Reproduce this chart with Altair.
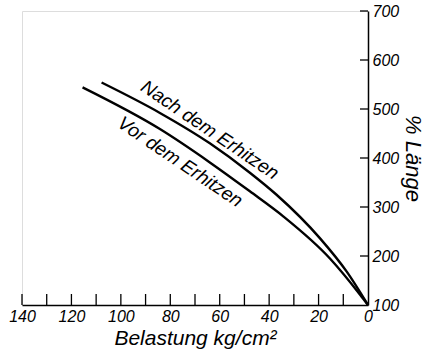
import altair as alt
import pandas as pd

# data
nach_load = [0, 8.6, 19.4, 37, 47.8, 64, 84.2, 107.8]
nach_len = [100, 168, 236, 325, 370, 430, 492, 554]
vor_load = [0, 3.2, 15.4, 34.3, 47.8, 64, 84.2, 115.5]
vor_len = [100, 121, 195, 281, 332, 391, 459, 544]

x_labels = [0, 20, 40, 60, 80, 100, 120, 140]
x_ticks = [10, 20, 30, 40, 50, 60, 70, 80, 90, 100, 110, 120, 130, 140]
y_labels = [100, 200, 300, 400, 500, 600, 700]
y_ticks = [200, 300, 400, 500, 600, 700]

curve_names = ["Nach dem Erhitzen", "Vor dem Erhitzen"]
label_load = [64, 76]
label_len = [457, 392]

W, H = 346, 294
FONT = "Liberation Sans"

rows = []
for s, xs, ys in [("Nach", nach_load, nach_len), ("Vor", vor_load, vor_len)]:
    for i, (a, b) in enumerate(zip(xs, ys)):
        rows.append({"serie": s, "load": a, "len": b, "ord": i})
df = pd.DataFrame(rows)

xscale = alt.Scale(domain=[0, 140], reverse=True, nice=False, zero=False)
yscale = alt.Scale(domain=[100, 700], nice=False, zero=False)

xaxis = alt.Axis(values=x_labels, tickSize=0, labelPadding=3, grid=False,
                 domainColor="black", domainWidth=1.5, labelColor="black",
                 labelFont=FONT, labelFontStyle="italic", labelFontSize=16,
                 title="Belastung kg/cm²", titleFont=FONT, titleFontStyle="italic",
                 titleFontSize=21, titleFontWeight="normal", titleColor="black",
                 titlePadding=3, labelFlush=False)
yaxis = alt.Axis(orient="right", values=y_labels, tickSize=0, labelPadding=4, grid=False,
                 domainColor="black", domainWidth=1.5, labelColor="black",
                 labelFont=FONT, labelFontStyle="italic", labelFontSize=16,
                 title="% Länge", titleFont=FONT, titleFontStyle="italic",
                 titleFontSize=22, titleFontWeight="normal", titleColor="black",
                 titlePadding=2, labelFlush=False)

lines = alt.Chart(df).mark_line(color="black", strokeWidth=2.4, interpolate="monotone").encode(
    x=alt.X("load:Q", scale=xscale, axis=xaxis),
    y=alt.Y("len:Q", scale=yscale, axis=yaxis),
    detail="serie:N",
    order="ord:Q",
)

xt = alt.Chart(pd.DataFrame({"v": x_ticks})).mark_rule(color="black", strokeWidth=1.3).encode(
    x=alt.X("v:Q", scale=xscale),
    y=alt.value(H - 11),
    y2=alt.value(H),
)
yt = alt.Chart(pd.DataFrame({"v": y_ticks})).mark_rule(color="black", strokeWidth=1.3).encode(
    y=alt.Y("v:Q", scale=yscale),
    x=alt.value(W - 8),
    x2=alt.value(W),
)

lab = pd.DataFrame({"t": curve_names, "load": label_load, "len": label_len})
texts = alt.Chart(lab).mark_text(font=FONT, fontStyle="italic", fontSize=19, angle=34,
                                 color="black").encode(
    x=alt.X("load:Q", scale=xscale),
    y=alt.Y("len:Q", scale=yscale),
    text="t:N",
)

chart = alt.layer(xt, yt, lines, texts).properties(
    width=W, height=H,
    autosize=alt.AutoSizeParams(type="none"),
    padding={"left": 22, "top": 11, "right": 62, "bottom": 47},
).configure_view(stroke=None).configure(background="white")

chart.save("out.html", embed_options={"renderer": "svg", "actions": False})
